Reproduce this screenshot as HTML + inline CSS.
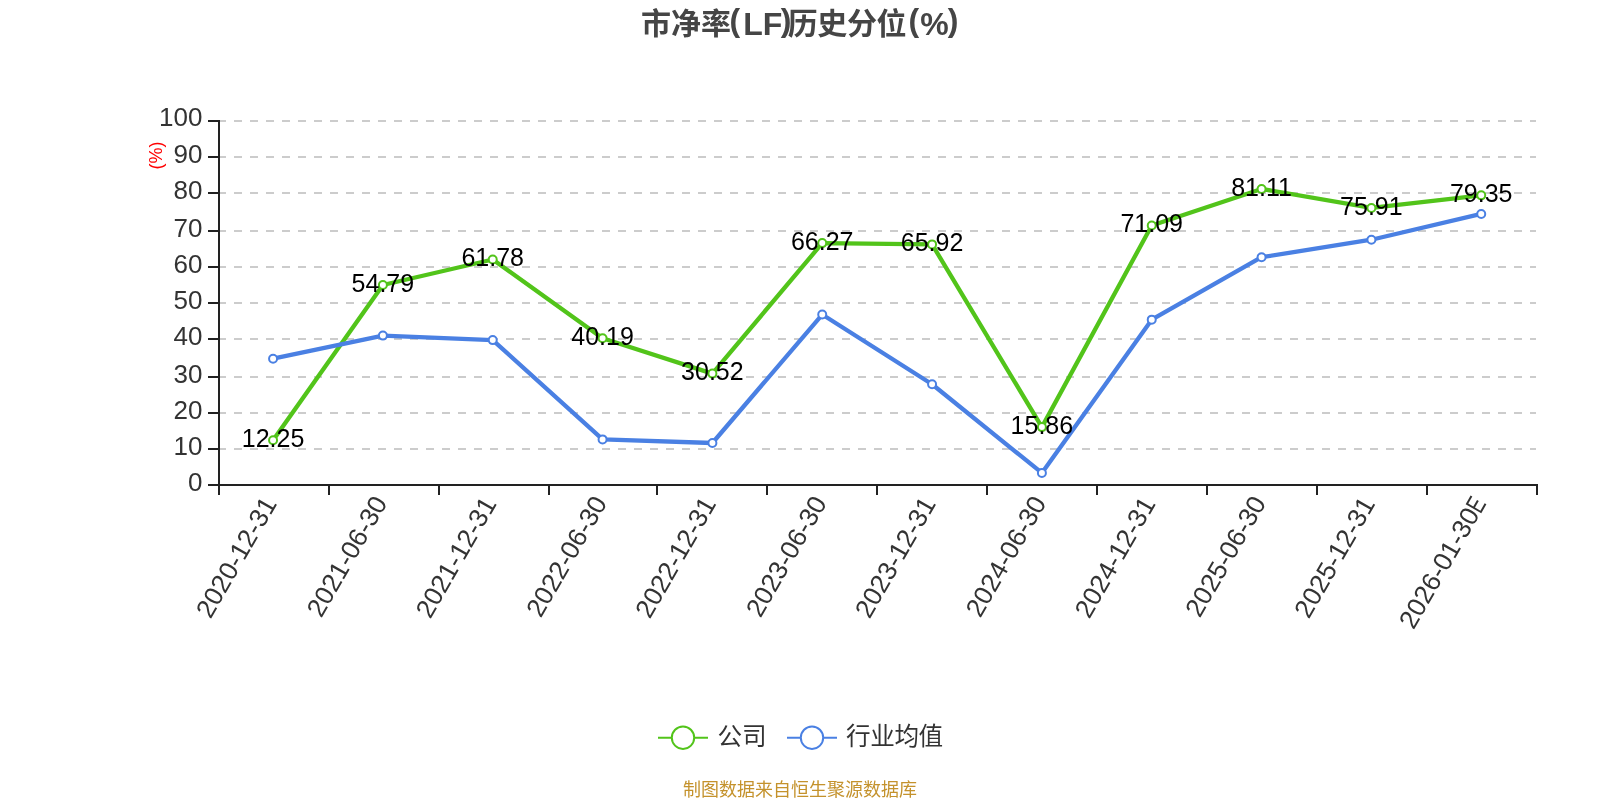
<!DOCTYPE html>
<html lang="zh-CN"><head><meta charset="utf-8">
<title>市净率(LF)历史分位(%)</title>
<style>
html,body{margin:0;padding:0;background:#fff;}
body{width:1600px;height:800px;overflow:hidden;}
svg{display:block;will-change:transform;}
text{font-family:"Liberation Sans", "Noto Sans CJK SC", sans-serif;}
.yl{font-size:26px;fill:#333;text-anchor:end;}
.xl{font-size:26.2px;fill:#333;text-anchor:end;}
.dl{font-size:25px;fill:#000;text-anchor:middle;}
.lg{font-size:24.6px;fill:#333;}
</style></head><body>
<svg width="1600" height="800" viewBox="0 0 1600 800">
<rect width="1600" height="800" fill="#fff"/>
<text font-size="30" font-weight="bold" fill="#454545"><tspan x="641" y="34">市净率</tspan><tspan x="729.5" y="31" font-size="32">(</tspan><tspan x="743.2" y="34.6" font-size="32">LF</tspan><tspan x="780.8" y="31" font-size="32">)</tspan><tspan x="787.7" y="34" letter-spacing="-0.4">历史分位</tspan><tspan x="908.6" y="31" font-size="32">(</tspan><tspan x="920.3" y="34.6" font-size="32">%</tspan><tspan x="947.7" y="31" font-size="32">)</tspan></text>
<g stroke="#ccc" stroke-width="2" stroke-dasharray="8 8" fill="none">
<line x1="218" y1="121" x2="1536" y2="121"/>
<line x1="218" y1="157" x2="1536" y2="157"/>
<line x1="218" y1="193" x2="1536" y2="193"/>
<line x1="218" y1="231" x2="1536" y2="231"/>
<line x1="218" y1="267" x2="1536" y2="267"/>
<line x1="218" y1="303" x2="1536" y2="303"/>
<line x1="218" y1="339" x2="1536" y2="339"/>
<line x1="218" y1="377" x2="1536" y2="377"/>
<line x1="218" y1="413" x2="1536" y2="413"/>
<line x1="218" y1="449" x2="1536" y2="449"/>
</g>
<g stroke="#222" stroke-width="2" fill="none">
<line x1="219" y1="120" x2="219" y2="485"/>
<line x1="218" y1="485" x2="1538" y2="485"/>
<line x1="208" y1="121" x2="218" y2="121"/>
<line x1="208" y1="157" x2="218" y2="157"/>
<line x1="208" y1="193" x2="218" y2="193"/>
<line x1="208" y1="231" x2="218" y2="231"/>
<line x1="208" y1="267" x2="218" y2="267"/>
<line x1="208" y1="303" x2="218" y2="303"/>
<line x1="208" y1="339" x2="218" y2="339"/>
<line x1="208" y1="377" x2="218" y2="377"/>
<line x1="208" y1="413" x2="218" y2="413"/>
<line x1="208" y1="449" x2="218" y2="449"/>
<line x1="208" y1="485" x2="218" y2="485"/>
<line x1="219" y1="485" x2="219" y2="495"/>
<line x1="329" y1="485" x2="329" y2="495"/>
<line x1="439" y1="485" x2="439" y2="495"/>
<line x1="549" y1="485" x2="549" y2="495"/>
<line x1="657" y1="485" x2="657" y2="495"/>
<line x1="767" y1="485" x2="767" y2="495"/>
<line x1="877" y1="485" x2="877" y2="495"/>
<line x1="987" y1="485" x2="987" y2="495"/>
<line x1="1097" y1="485" x2="1097" y2="495"/>
<line x1="1207" y1="485" x2="1207" y2="495"/>
<line x1="1317" y1="485" x2="1317" y2="495"/>
<line x1="1427" y1="485" x2="1427" y2="495"/>
<line x1="1537" y1="485" x2="1537" y2="495"/>
</g>
<g class="yl">
<text x="202.4" y="126">100</text>
<text x="202.4" y="162.6">90</text>
<text x="202.4" y="198.6">80</text>
<text x="202.4" y="236.6">70</text>
<text x="202.4" y="272.6">60</text>
<text x="202.4" y="308.6">50</text>
<text x="202.4" y="344.6">40</text>
<text x="202.4" y="382.6">30</text>
<text x="202.4" y="418.6">20</text>
<text x="202.4" y="454.6">10</text>
<text x="202.4" y="490.6">0</text>
</g>
<text transform="translate(162.2 155.6) rotate(-90)" text-anchor="middle" font-size="18" fill="#f00">(%)</text>
<g class="xl">
<text transform="translate(270.07 499.3) rotate(-60)" x="0" y="8.6">2020-12-31</text>
<text transform="translate(380.7 498.5) rotate(-60)" x="0" y="8.6">2021-06-30</text>
<text transform="translate(489.73 499.3) rotate(-60)" x="0" y="8.6">2021-12-31</text>
<text transform="translate(600.37 498.5) rotate(-60)" x="0" y="8.6">2022-06-30</text>
<text transform="translate(709.4 499.3) rotate(-60)" x="0" y="8.6">2022-12-31</text>
<text transform="translate(820.03 498.5) rotate(-60)" x="0" y="8.6">2023-06-30</text>
<text transform="translate(929.07 499.3) rotate(-60)" x="0" y="8.6">2023-12-31</text>
<text transform="translate(1039.7 498.5) rotate(-60)" x="0" y="8.6">2024-06-30</text>
<text transform="translate(1148.73 499.3) rotate(-60)" x="0" y="8.6">2024-12-31</text>
<text transform="translate(1259.37 498.5) rotate(-60)" x="0" y="8.6">2025-06-30</text>
<text transform="translate(1368.4 499.3) rotate(-60)" x="0" y="8.6">2025-12-31</text>
<text transform="translate(1479.23 499.3) rotate(-60)" x="0" y="8.6">2026-01-30<tspan textLength="12.58" lengthAdjust="spacingAndGlyphs">E</tspan></text>
</g>
<polyline points="273.07,440.29 382.9,285.02 492.73,259.5 602.57,338.31 712.4,373.6 822.23,243.11 932.07,244.39 1041.9,427.11 1151.73,225.52 1261.57,188.95 1371.4,207.93 1481.23,195.37" fill="none" stroke="#52c41a" stroke-width="4.3" stroke-linejoin="bevel"/>
<polyline points="273.07,358.71 382.9,335.61 492.73,340.1 602.57,439.41 712.4,443.02 822.23,314.54 932.07,384.26 1041.9,472.95 1151.73,319.65 1261.57,257.24 1371.4,239.72 1481.23,213.95" fill="none" stroke="#4a80e3" stroke-width="4.3" stroke-linejoin="bevel"/>
<g fill="#fff" stroke="#52c41a" stroke-width="2">
<circle cx="273.07" cy="440.29" r="4"/>
<circle cx="382.9" cy="285.02" r="4"/>
<circle cx="492.73" cy="259.5" r="4"/>
<circle cx="602.57" cy="338.31" r="4"/>
<circle cx="712.4" cy="373.6" r="4"/>
<circle cx="822.23" cy="243.11" r="4"/>
<circle cx="932.07" cy="244.39" r="4"/>
<circle cx="1041.9" cy="427.11" r="4"/>
<circle cx="1151.73" cy="225.52" r="4"/>
<circle cx="1261.57" cy="188.95" r="4"/>
<circle cx="1371.4" cy="207.93" r="4"/>
<circle cx="1481.23" cy="195.37" r="4"/>
</g>
<g fill="#fff" stroke="#4a80e3" stroke-width="2">
<circle cx="273.07" cy="358.71" r="4"/>
<circle cx="382.9" cy="335.61" r="4"/>
<circle cx="492.73" cy="340.1" r="4"/>
<circle cx="602.57" cy="439.41" r="4"/>
<circle cx="712.4" cy="443.02" r="4"/>
<circle cx="822.23" cy="314.54" r="4"/>
<circle cx="932.07" cy="384.26" r="4"/>
<circle cx="1041.9" cy="472.95" r="4"/>
<circle cx="1151.73" cy="319.65" r="4"/>
<circle cx="1261.57" cy="257.24" r="4"/>
<circle cx="1371.4" cy="239.72" r="4"/>
<circle cx="1481.23" cy="213.95" r="4"/>
</g>
<g class="dl">
<text x="273.07" y="446.99">12.25</text>
<text x="382.9" y="291.72">54.79</text>
<text x="492.73" y="266.2">61.78</text>
<text x="602.57" y="345.01">40.19</text>
<text x="712.4" y="380.3">30.52</text>
<text x="822.23" y="249.81">66.27</text>
<text x="932.07" y="251.09">65.92</text>
<text x="1041.9" y="433.81">15.86</text>
<text x="1151.73" y="232.22">71.09</text>
<text x="1261.57" y="195.65">81.11</text>
<text x="1371.4" y="214.63">75.91</text>
<text x="1481.23" y="202.07">79.35</text>
</g>
<line x1="658" y1="737.7" x2="708" y2="737.7" stroke="#52c41a" stroke-width="2"/>
<circle cx="683" cy="737.7" r="11.2" fill="#fff" stroke="#52c41a" stroke-width="2"/>
<text class="lg" x="717.5" y="744.9">公司</text>
<line x1="787" y1="737.7" x2="837" y2="737.7" stroke="#4a80e3" stroke-width="2"/>
<circle cx="812" cy="737.7" r="11.2" fill="#fff" stroke="#4a80e3" stroke-width="2"/>
<text class="lg" x="846" y="744.9" letter-spacing="-0.4">行业均值</text>
<text x="800" y="796.4" text-anchor="middle" font-size="18" fill="#c4922c">制图数据来自恒生聚源数据库</text>
</svg>
</body></html>
